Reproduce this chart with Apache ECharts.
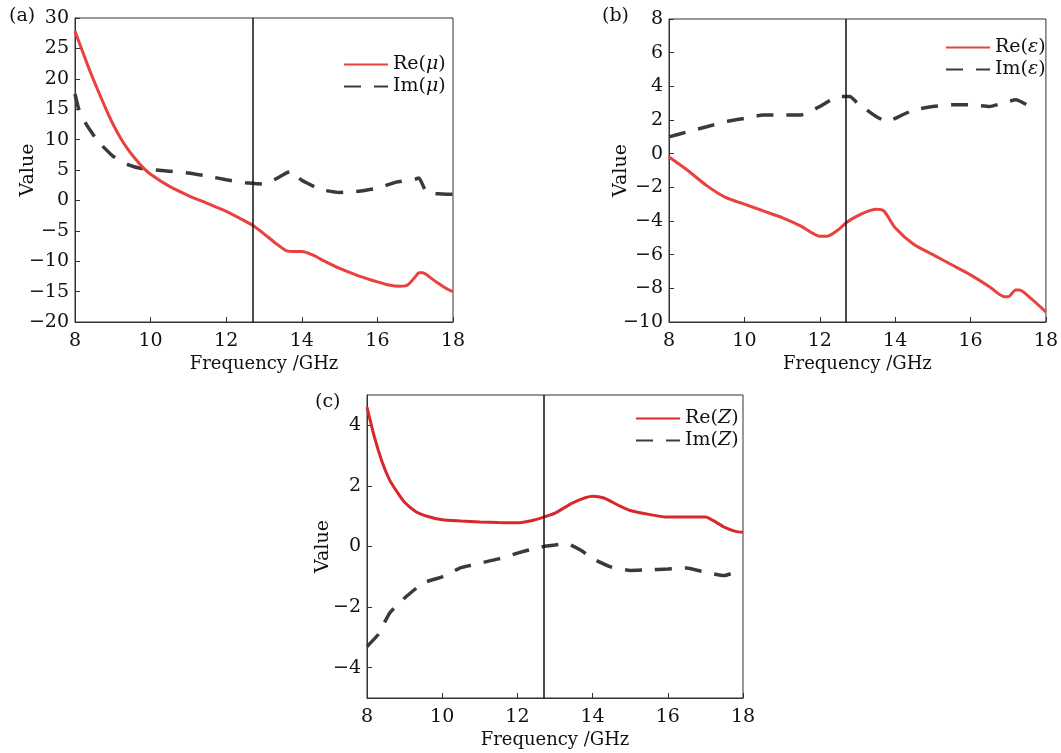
<!DOCTYPE html>
<html>
<head>
<meta charset="utf-8">
<script src="https://cdn.jsdelivr.net/npm/echarts@6/dist/echarts.min.js"></script>
<style>
  html, body { margin: 0; padding: 0; background: #fff; }
  #chart { width: 1061px; height: 753px; }
</style>
</head>
<body>
<div id="chart"></div>
<script>
// (a) permeability
const fReMu = [8.0, 8.2, 8.4, 8.6, 8.8, 9.0, 9.2, 9.4, 9.6, 9.8, 10.0, 10.5, 11.0, 11.5, 12.0, 12.5, 12.7, 13.0, 13.3, 13.6, 13.8, 14.0, 14.3, 14.6, 15.0, 15.5, 16.0, 16.3, 16.6, 16.8, 17.0, 17.1, 17.2, 17.4, 17.6, 17.8, 18.0];
const reMu = [27.8, 24.5, 21.2, 18.2, 15.3, 12.6, 10.3, 8.4, 6.8, 5.4, 4.3, 2.3, 0.8, -0.5, -1.8, -3.4, -4.1, -5.5, -7.0, -8.3, -8.4, -8.4, -9.0, -10.0, -11.2, -12.4, -13.4, -13.9, -14.1, -13.9, -12.6, -11.9, -11.9, -12.7, -13.6, -14.4, -15.0];
const fImMu = [8.0, 8.1, 8.3, 8.6, 9.0, 9.4, 9.8, 10.5, 11.0, 11.5, 12.0, 12.5, 13.0, 13.3, 13.7, 14.0, 14.5, 15.0, 15.5, 16.0, 16.5, 17.0, 17.1, 17.3, 17.6, 18.0];
const imMu = [17.5, 15.0, 12.5, 9.8, 7.3, 5.9, 5.2, 4.8, 4.5, 4.0, 3.4, 2.9, 2.7, 3.5, 4.8, 3.3, 1.8, 1.3, 1.5, 2.0, 3.0, 3.5, 3.7, 1.3, 1.1, 1.0];

// (b) permittivity
const fReEps = [8.0, 8.5, 9.0, 9.5, 10.0, 10.5, 11.0, 11.5, 12.0, 12.2, 12.5, 12.7, 13.0, 13.3, 13.5, 13.7, 14.0, 14.5, 15.0, 15.5, 16.0, 16.5, 16.9, 17.0, 17.2, 17.3, 17.6, 18.0];
const reEps = [-0.2, -1.0, -1.9, -2.6, -3.0, -3.4, -3.8, -4.3, -4.9, -4.9, -4.5, -4.1, -3.7, -3.4, -3.3, -3.4, -4.4, -5.4, -6.0, -6.6, -7.2, -7.9, -8.5, -8.5, -8.1, -8.1, -8.6, -9.4];
const fImEps = [8.0, 8.5, 9.0, 9.5, 10.0, 10.5, 11.0, 11.5, 12.0, 12.5, 12.8, 13.0, 13.5, 13.8, 14.0, 14.5, 15.0, 15.5, 16.0, 16.5, 17.0, 17.2, 17.5, 17.7];
const imEps = [1.0, 1.3, 1.6, 1.9, 2.1, 2.3, 2.3, 2.3, 2.8, 3.4, 3.4, 3.0, 2.2, 1.9, 2.1, 2.6, 2.8, 2.9, 2.9, 2.8, 3.1, 3.2, 2.9, 2.6];

// (c) impedance
const fReZ = [8.0, 8.2, 8.4, 8.6, 8.8, 9.0, 9.3, 9.6, 10.0, 10.5, 11.0, 11.5, 12.0, 12.4, 12.7, 13.0, 13.5, 14.0, 14.3, 14.7, 15.0, 15.5, 16.0, 16.5, 17.0, 17.2, 17.5, 17.8, 18.0];
const reZ = [4.6, 3.6, 2.8, 2.2, 1.8, 1.46, 1.15, 1.0, 0.88, 0.84, 0.81, 0.79, 0.78, 0.86, 0.97, 1.1, 1.46, 1.66, 1.6, 1.35, 1.19, 1.06, 0.97, 0.97, 0.97, 0.86, 0.64, 0.5, 0.47];
const fImZ = [8.0, 8.3, 8.6, 9.0, 9.5, 10.0, 10.5, 11.0, 11.5, 12.0, 12.5, 12.7, 13.0, 13.3, 13.7, 14.0, 14.5, 15.0, 15.5, 16.0, 16.5, 17.0, 17.5, 18.0];
const imZ = [-3.3, -2.9, -2.2, -1.7, -1.2, -1.0, -0.7, -0.55, -0.41, -0.22, -0.05, 0.0, 0.05, 0.1, -0.13, -0.4, -0.68, -0.79, -0.77, -0.74, -0.71, -0.85, -0.96, -0.74];

const markFreq = 12.7;
const xTicks = { min: 8, max: 18, interval: 2 };
const zTicks = [-4, -2, 0, 2, 4];

const FONT = 'DejaVu Serif';
const RED = '#e8413e';
const DARK = '#3a3a3a';
const INK = '#111';

function pairs(xs, ys) {
  return xs.map((x, i) => [x, ys[i]]);
}
function minus(v) {
  return String(v).replace('-', '\u2212');
}

const grids = [
  { left: 75, top: 18, width: 378, height: 304 },
  { left: 669, top: 19, width: 378, height: 303 },
  { left: 367, top: 395, width: 376, height: 303 }
];

const xAxes = grids.map((g, i) => ({
  type: 'value',
  gridIndex: i,
  min: xTicks.min,
  max: xTicks.max,
  interval: xTicks.interval,
  name: 'Frequency /GHz',
  nameLocation: 'middle',
  nameGap: 33,
  nameMoveOverlap: false,
  nameTextStyle: { fontFamily: FONT, fontSize: 18, color: INK },
  axisLine: { onZero: false, lineStyle: { color: '#333', width: 1 } },
  axisTick: { inside: true, length: 5, lineStyle: { color: '#333' } },
  axisLabel: { fontFamily: FONT, fontSize: 19, color: INK, margin: 10 },
  splitLine: { show: false }
}));

const yBase = {
  type: 'value',
  name: 'Value',
  nameLocation: 'middle',
  nameRotate: 90,
  nameMoveOverlap: false,
  nameTextStyle: { fontFamily: FONT, fontSize: 19, color: INK },
  axisLine: { show: true, onZero: false, lineStyle: { color: '#333', width: 1 } },
  axisTick: { show: true, inside: true, length: 5, lineStyle: { color: '#333' } },
  splitLine: { show: false }
};
const yLabel = { fontFamily: FONT, fontSize: 19, color: INK, margin: 6, formatter: minus };

const yAxes = [
  Object.assign({}, yBase, { gridIndex: 0, min: -20, max: 30, interval: 5, nameGap: 37, axisLabel: yLabel }),
  Object.assign({}, yBase, { gridIndex: 1, min: -10, max: 8, interval: 2, nameGap: 38, axisLabel: yLabel }),
  Object.assign({}, yBase, {
    gridIndex: 2, min: -5, max: 5, nameGap: 34,
    axisLabel: Object.assign({}, yLabel, { customValues: zTicks }),
    axisTick: { show: true, inside: true, length: 5, lineStyle: { color: '#333' }, customValues: zTicks }
  })
];

function solid(name, data, idx, color) {
  return {
    name: name, type: 'line', xAxisIndex: idx, yAxisIndex: idx,
    data: data, showSymbol: false, symbol: 'none', smooth: 0.25,
    lineStyle: { color: color, width: 3 }, itemStyle: { color: color },
    z: 3
  };
}
function dashed(name, data, idx) {
  return {
    name: name, type: 'line', xAxisIndex: idx, yAxisIndex: idx,
    data: data, showSymbol: false, symbol: 'none', smooth: 0.15,
    lineStyle: { color: DARK, width: 3.5, type: [17, 13] }, itemStyle: { color: DARK },
    z: 2,
    markLine: {
      silent: true, symbol: ['none', 'none'], label: { show: false },
      lineStyle: { color: INK, width: 1.5, type: 'solid' },
      data: [{ xAxis: markFreq }]
    }
  };
}

const rich = { i: { fontFamily: FONT, fontSize: 19, fontStyle: 'italic', color: INK } };
function legend(names, left, top) {
  return {
    data: names, left: left, top: top, orient: 'vertical',
    itemWidth: 44, itemHeight: 12, itemGap: 3,
    itemStyle: { opacity: 0 },
    textStyle: { fontFamily: FONT, fontSize: 19, color: INK, rich: rich },
    formatter: n => n.replace(/\((.+)\)/, '({i|$1})')
  };
}

const chart = echarts.init(document.getElementById('chart'));
chart.setOption({
  backgroundColor: '#fff',
  animation: false,
  title: [
    { text: '(a)', left: 4, top: 2 },
    { text: '(b)', left: 597, top: 2 },
    { text: '(c)', left: 310, top: 388 }
  ].map(t => Object.assign(t, { textStyle: { fontFamily: FONT, fontSize: 19, fontWeight: 'normal', color: INK } })),
  grid: grids.map(g => Object.assign({ show: true, borderColor: '#333', borderWidth: 1, backgroundColor: 'transparent' }, g)),
  legend: [
    legend(['Re(μ)', 'Im(μ)'], 338, 50),
    legend(['Re(ε)', 'Im(ε)'], 940, 33),
    legend(['Re(Z)', 'Im(Z)'], 630, 404)
  ],
  xAxis: xAxes,
  yAxis: yAxes,
  series: [
    solid('Re(μ)', pairs(fReMu, reMu), 0, RED),
    dashed('Im(μ)', pairs(fImMu, imMu), 0),
    solid('Re(ε)', pairs(fReEps, reEps), 1, RED),
    dashed('Im(ε)', pairs(fImEps, imEps), 1),
    solid('Re(Z)', pairs(fReZ, reZ), 2, '#d9282b'),
    dashed('Im(Z)', pairs(fImZ, imZ), 2)
  ]
});
</script>
</body>
</html>
